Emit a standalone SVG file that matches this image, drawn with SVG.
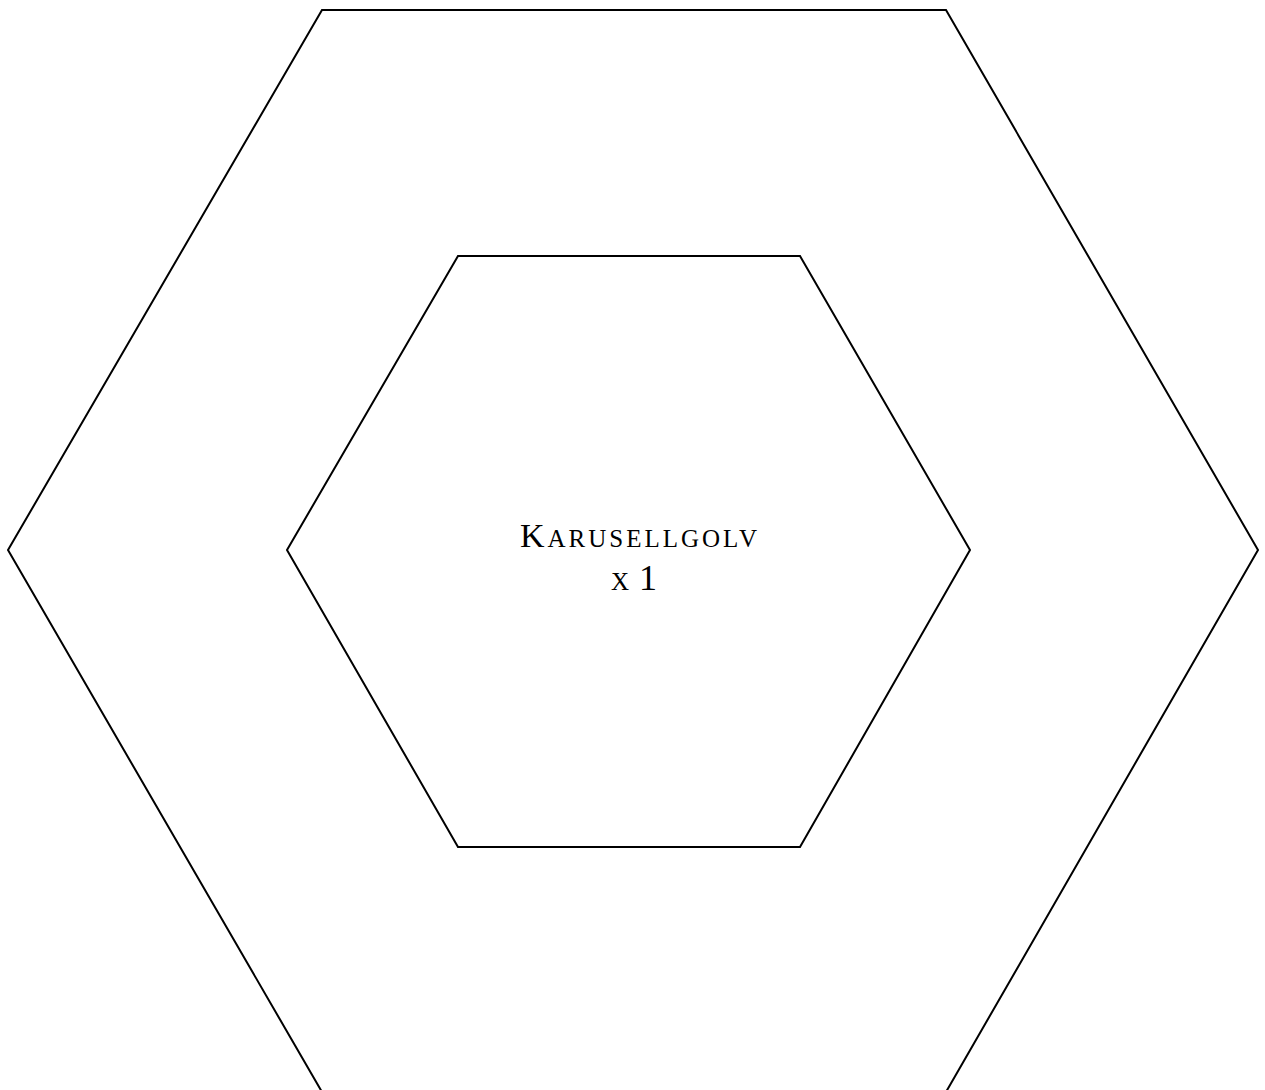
<svg xmlns="http://www.w3.org/2000/svg" width="1265" height="1090" viewBox="0 0 1265 1090">
<style>
.hex{fill:none;stroke:#000;stroke-width:2;stroke-linejoin:miter}
.lbl{font-family:"Liberation Serif","DejaVu Serif",serif;font-size:34px;fill:#000}
.sc{font-size:25px}
.big{font-size:36px}
</style>
<rect width="1265" height="1090" fill="#fff"/>
<g id="outer">
<polygon class="hex" points="322,10 946,10 1258,550 946,1092 322,1092 8,550"/>
</g>
<g id="inner">
<polygon class="hex" points="458,256 800,256 970,550 800,847 458,847 287,550"/>
<text class="lbl" x="520" y="547" textLength="237" lengthAdjust="spacing">K<tspan class="sc">ARUSELLGOLV</tspan></text>
<text class="lbl" x="611" y="590" textLength="46" lengthAdjust="spacing"><tspan class="sc">X</tspan><tspan class="big"> 1</tspan></text>
</g>
<g id="connectors"/>
</svg>
